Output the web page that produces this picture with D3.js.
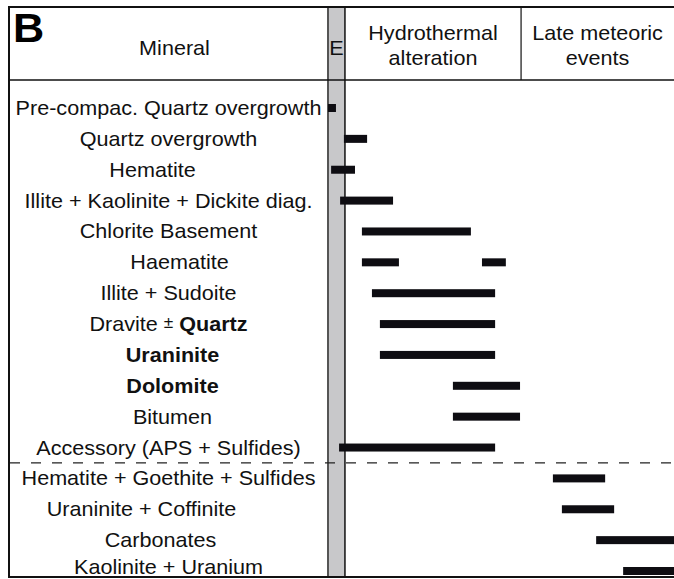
<!DOCTYPE html>
<html>
<head>
<meta charset="utf-8">
<script src="https://cdn.jsdelivr.net/npm/d3@7"></script>
<style>
  html, body { margin: 0; padding: 0; background: #fff; }
  svg { display: block; font-family: "Liberation Sans", Arial, sans-serif; }
</style>
</head>
<body>
<svg id="chart" width="674" height="579"></svg>
<script>
// Paragenetic sequence: minerals and their relative timing
const minerals = [
  "Pre-compac. Quartz overgrowth",
  "Quartz overgrowth",
  "Hematite",
  "Illite + Kaolinite + Dickite diag.",
  "Chlorite Basement",
  "Haematite",
  "Illite + Sudoite",
  "Dravite ± Quartz",
  "Uraninite",
  "Dolomite",
  "Bitumen",
  "Accessory (APS + Sulfides)",
  "Hematite + Goethite + Sulfides",
  "Uraninite + Coffinite",
  "Carbonates",
  "Kaolinite + Uranium"
];
// relative time (0 = earliest, 100 = latest)
const spanStart = [0, 4.6, 0.9, 3.5, 9.8, 9.8, 12.7, 15.0, 15.0, 36.1, 36.1, 3.2, 65.0, 67.6, 77.5, 85.3];
const spanEnd   = [2.3, 11.3, 7.8, 18.8, 41.3, 20.5, 48.3, 48.3, 48.3, 55.5, 55.5, 48.3, 80.1, 82.7, 100, 100];
// second episode for minerals that formed twice
const extraSpans = [{ mineral: "Haematite", start: 44.5, end: 51.4 }];

const stages = [["E"], ["Hydrothermal", "alteration"], ["Late meteoric", "events"]];
const stageBounds = [0, 4.9, 55.8, 100];
const boldMinerals = ["Uraninite", "Dolomite"];
const lateGroupStart = "Hematite + Goethite + Sulfides";

const svg = d3.select("#chart");
const frame = { left: 9, top: 7, bottom: 577, right: 680, header: 80 };
const x = d3.scaleLinear().domain([0, 100]).range([328, 674]);
const y = d3.scalePoint().domain(minerals).range([108, 571]);
const barH = 8;
const fs = 20;      // label font size
const sx = 1.08;    // horizontal stretch of the lettering
const labelCx = (frame.left + x(0)) / 2;
// small horizontal offsets of individual names within the label column
const labelNudge = {
  "Hematite": -16, "Haematite": 11, "Uraninite": 4, "Dolomite": 4, "Bitumen": 4,
  "Uraninite + Coffinite": -27, "Carbonates": -8
};

// early (E) stage shading
svg.append("rect")
  .attr("x", x(stageBounds[0])).attr("y", frame.top)
  .attr("width", x(stageBounds[1]) - x(stageBounds[0]))
  .attr("height", frame.bottom - frame.top)
  .attr("fill", "#c8c8ca");
svg.append("line")
  .attr("x1", x(stageBounds[0])).attr("x2", x(stageBounds[0]))
  .attr("y1", frame.top).attr("y2", frame.bottom)
  .attr("stroke", "#555").attr("stroke-width", 2);
svg.append("line")
  .attr("x1", x(stageBounds[1])).attr("x2", x(stageBounds[1]))
  .attr("y1", frame.top).attr("y2", frame.bottom)
  .attr("stroke", "#111").attr("stroke-width", 1.5);
// separator between hydrothermal and late stages (header only)
svg.append("line")
  .attr("x1", x(stageBounds[2])).attr("x2", x(stageBounds[2]))
  .attr("y1", frame.top).attr("y2", frame.header)
  .attr("stroke", "#111").attr("stroke-width", 1.2);

// outer frame and header rule
svg.append("rect")
  .attr("x", frame.left).attr("y", frame.top)
  .attr("width", frame.right - frame.left).attr("height", frame.bottom - frame.top)
  .attr("fill", "none").attr("stroke", "#111").attr("stroke-width", 2);
svg.append("line")
  .attr("x1", frame.left).attr("x2", frame.right)
  .attr("y1", frame.header).attr("y2", frame.header)
  .attr("stroke", "#111").attr("stroke-width", 1.5);

// dashed divider before the late meteoric minerals
const iLate = minerals.indexOf(lateGroupStart);
const yDiv = (y(minerals[iLate - 1]) + y(minerals[iLate])) / 2;
svg.append("line")
  .attr("x1", frame.left + 1).attr("x2", frame.right)
  .attr("y1", yDiv).attr("y2", yDiv)
  .attr("stroke", "#222").attr("stroke-width", 1.2)
  .attr("stroke-dasharray", "10,11");

// stretched text helper
function label(g, cx, cy, anchor) {
  return g.append("text")
    .attr("transform", `translate(${cx},${cy}) scale(${sx},1)`)
    .attr("text-anchor", anchor || "middle");
}

// header
label(svg, 13, 42, "start").attr("font-size", 40).attr("font-weight", "bold").attr("fill", "#000").text("B");
label(svg, labelCx + 6, 55).attr("font-size", fs).attr("fill", "#111").text("Mineral");
stages.forEach((lines, i) => {
  const cx = (x(stageBounds[i]) + x(stageBounds[i + 1])) / 2;
  if (lines.length === 1) {
    label(svg, cx, 55).attr("font-size", fs).attr("fill", "#111").text(lines[0]);
  } else {
    lines.forEach((t, j) => {
      label(svg, cx, 40 + j * 25).attr("font-size", fs).attr("fill", "#111").text(t);
    });
  }
});

// mineral names
minerals.forEach((m) => {
  const base = Math.min(y(m) + 7, frame.bottom - 3);
  const t = label(svg, labelCx + (labelNudge[m] || 0), base).attr("font-size", fs).attr("fill", "#111");
  if (m === "Dravite ± Quartz") {
    t.append("tspan").text("Dravite ");
    t.append("tspan").attr("font-size", 16).attr("dy", -3).text("±");
    t.append("tspan").attr("dy", 3).attr("font-weight", "bold").text(" Quartz");
  } else {
    t.attr("font-weight", boldMinerals.includes(m) ? "bold" : null).text(m);
  }
});

// timing bars
const bars = minerals.map((m, i) => ({ mineral: m, start: spanStart[i], end: spanEnd[i] }))
  .concat(extraSpans);
svg.append("g").selectAll("rect").data(bars).join("rect")
  .attr("x", d => x(d.start))
  .attr("y", d => y(d.mineral) - barH / 2)
  .attr("width", d => x(d.end) - x(d.start))
  .attr("height", barH)
  .attr("fill", "#0e0d12");
</script>
</body>
</html>
